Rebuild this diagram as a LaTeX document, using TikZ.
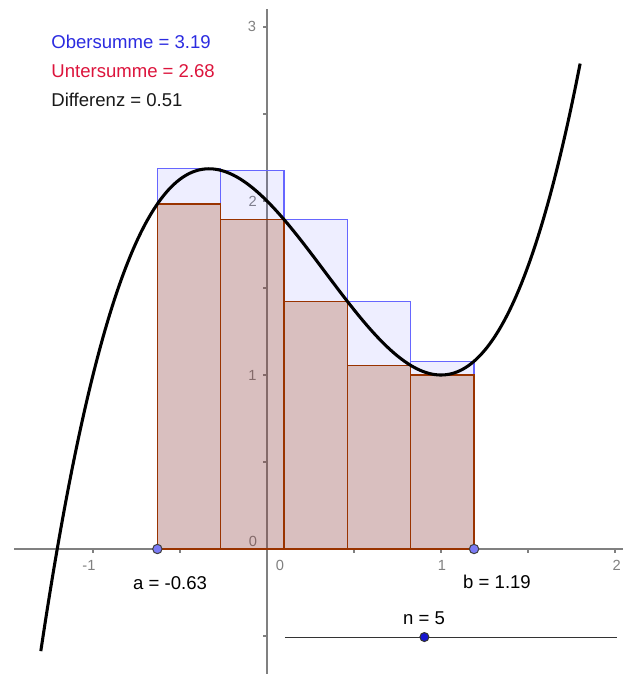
\documentclass[tikz,border=0pt]{standalone}
\usepackage{fontspec}
\setmainfont{Liberation Sans}
\usepackage{xcolor}
\usepackage{tikz}
\usetikzlibrary{positioning, calc}
\definecolor{axisgray}{HTML}{808080}
\definecolor{upperblue}{HTML}{6666FF}
\definecolor{uppertext}{HTML}{2B2BE0}
\definecolor{lowerbrown}{HTML}{993300}
\definecolor{lowertext}{HTML}{DC143C}
\definecolor{pointblue}{HTML}{7B7BF5}
\definecolor{knobblue}{HTML}{1515D0}

\begin{document}
\begin{tikzpicture}[x=3cm, y=3cm,
    sumtext/.style={inner sep=0pt, font=\fontsize{9.1}{11}\selectfont},
    ticklabel/.style={text=axisgray, inner sep=0pt, font=\fontsize{7.2}{8}\selectfont},
    upperrect/.style={draw=upperblue, line width=0.6pt, fill=upperblue, fill opacity=0.11},
    lowerrect/.style={draw=lowerbrown, line width=0.7pt, fill=lowerbrown, fill opacity=0.25},
    endpoint/.style={circle, draw=black!75, line width=0.5pt, fill=pointblue, inner sep=0pt, minimum size=4.6pt}]
    \useasboundingbox (-1.5345,-0.7184) rectangle (2.046,3.1552);
    % Axes
    \draw[axisgray, line width=1pt] (-1.454,0) -- (2.1,0);
    \draw[axisgray, line width=1pt] (0,-0.75) -- (0,3.103);
    % Ticks
    \foreach \t in {-1,-0.5,0.5,1,1.5,2} \draw[axisgray, line width=0.6pt] (\t,0) -- (\t,-0.022);
    \foreach \t in {-0.5,0.5,1,1.5,2,2.5,3} \draw[axisgray, line width=0.6pt] (0,\t) -- (-0.022,\t);
    % Tick labels
    \node[ticklabel] (xm1) at (-1.023,-0.092) {-1};
    \node[ticklabel] (x0) at (0.075,-0.092) {0};
    \node[ticklabel] (x1) at (1.006,-0.092) {1};
    \node[ticklabel] (x2) at (2.01,-0.092) {2};
    \node[ticklabel] (y0) at (-0.080,0.046) {0};
    \node[ticklabel] (y1) at (-0.084,1.0) {1};
    \node[ticklabel] (y2) at (-0.082,2.0) {2};
    \node[ticklabel] (y3) at (-0.086,3.006) {3};
    % Upper sum
    \filldraw[upperrect] (-0.63,0) rectangle (-0.266,2.185);
    \filldraw[upperrect] (-0.266,0) rectangle (0.098,2.176);
    \filldraw[upperrect] (0.098,0) rectangle (0.462,1.893);
    \filldraw[upperrect] (0.462,0) rectangle (0.826,1.423);
    \filldraw[upperrect] (0.826,0) rectangle (1.19,1.079);
    % Lower sum
    \filldraw[lowerrect] (-0.63,0) rectangle (-0.266,1.983);
    \filldraw[lowerrect] (-0.266,0) rectangle (0.098,1.893);
    \filldraw[lowerrect] (0.098,0) rectangle (0.462,1.423);
    \filldraw[lowerrect] (0.462,0) rectangle (0.826,1.055);
    \filldraw[lowerrect] (0.826,0) rectangle (1.19,1.0);
    % f(x) = x^3 - x^2 - x + 2
    \draw[black, line width=1.5pt, domain=-1.3:1.8, samples=120, smooth]
        plot (\x,{(\x)*(\x)*(\x)-(\x)*(\x)-(\x)+2});
    % Interval ends
    \node[endpoint] (pa) at (-0.63,0) {};
    \node[endpoint] (pb) at (1.19,0) {};
    \node[sumtext] (labela) at (-0.557,-0.195) {a = -0.63};
    \node[sumtext] (labelb) at (1.322,-0.190) {b = 1.19};
    % Slider for n
    \coordinate (sliderL) at (0.1034,-0.506);
    \coordinate (sliderR) at (2.011,-0.506);
    \draw[black!80, line width=0.5pt] (sliderL) -- (sliderR);
    \node[circle, draw=black!80, line width=0.5pt, fill=knobblue, inner sep=0pt, minimum size=4.4pt] (knob) at ($(sliderL)!0.42!(sliderR)$) {};
    \node[sumtext] (labeln) at (0.902,-0.397) {n = 5};
    % Sums
    \node[sumtext, anchor=west, text=uppertext] (obersumme) at (-1.2414,2.914) {Obersumme = 3.19};
    \node[sumtext, anchor=west, text=lowertext] (untersumme) at (-1.2414,2.747) {Untersumme = 2.68};
    \node[sumtext, anchor=west, text=black!90] (differenz) at (-1.2414,2.580) {Differenz = 0.51};
\end{tikzpicture}
\end{document}
